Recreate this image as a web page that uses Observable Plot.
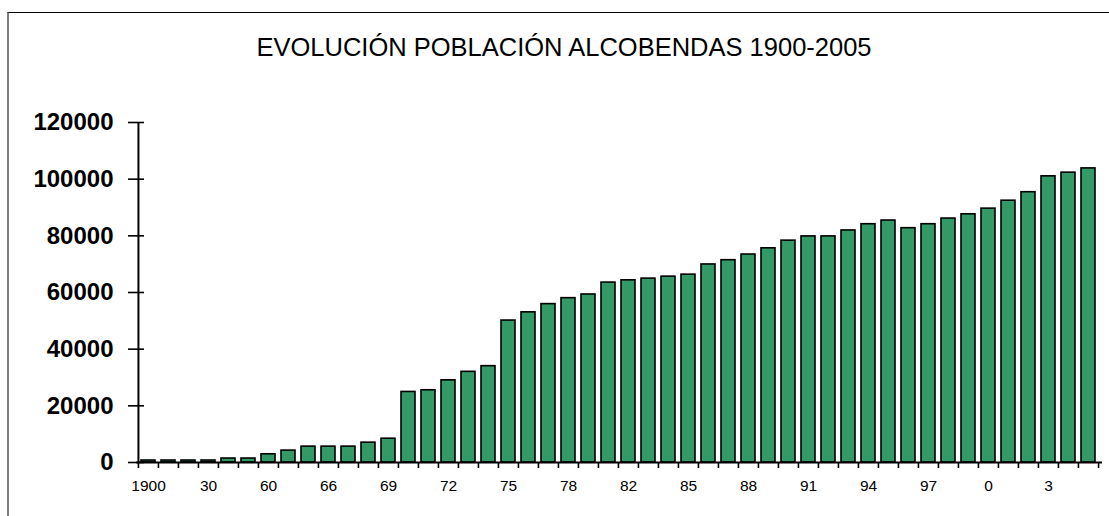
<!DOCTYPE html>
<html>
<head>
<meta charset="utf-8">
<script src="https://cdn.jsdelivr.net/npm/d3@7"></script>
<script src="https://cdn.jsdelivr.net/npm/@observablehq/plot@0.6"></script>
<style>
  html, body { margin: 0; padding: 0; background: #fff; overflow: hidden; }
  #wrap { position: relative; width: 1109px; height: 516px; overflow: hidden; font-family: "Liberation Sans", Arial, sans-serif; }
  #border { position: absolute; left: 7px; top: 12px; width: 1102px; height: 510px;
            border-top: 1.5px solid #000; border-left: 2px solid #808080; }
  #title { position: absolute; left: 64px; width: 1000px; top: 34px; line-height: 26px;
           text-align: center; font-size: 25.5px; color: #000; }
  #chart { position: absolute; left: 0; top: 0; }
</style>
</head>
<body>
<div id="wrap">
  <div id="border"></div>
  <div id="title">EVOLUCIÓN POBLACIÓN ALCOBENDAS 1900-2005</div>
  <div id="chart"></div>
</div>
<script>
const years = [1900,1910,1920,1930,1940,1950,1960,1962,1964,1966,1967,1968,1969,1970,1971,1972,1973,1974,1975,1976,1977,1978,1979,1981,1982,1983,1984,1985,1986,1987,1988,1989,1990,1991,1992,1993,1994,1995,1996,1997,1998,1999,2000,2001,2002,2003,2004,2005];
const population = [700,700,700,700,1400,1400,2900,4200,5600,5600,5600,7000,8400,24900,25500,29000,32000,34000,50100,53000,55900,58000,59300,63500,64300,64900,65600,66300,69900,71400,73400,75600,78300,79800,79800,81900,84100,85400,82700,84100,86100,87600,89600,92400,95400,101000,102300,103800];
const labelYears = [1900,1930,1960,1966,1969,1972,1975,1978,1982,1985,1988,1991,1994,1997,2000,2003];
const labelTexts = ["1900","30","60","66","69","72","75","78","82","85","88","91","94","97","0","3"];
const yTicks = [0,20000,40000,60000,80000,100000,120000];

const data = years.map((y, i) => ({year: y, pop: population[i]}));

const W = 1109, H = 516;
const mL = 136, mR = 7, mT = 122, mB = 54;
const bw = (W - mL - mR) / years.length;

const chart = Plot.plot({
  width: W,
  height: H,
  marginLeft: mL,
  marginRight: mR,
  marginTop: mT,
  marginBottom: mB,
  style: {fontFamily: "'Liberation Sans', Arial, sans-serif", background: "transparent", color: "#000"},
  x: {type: "band", domain: years, padding: 0.3, align: 0.45},
  y: {domain: [0, 120000]},
  marks: [
    Plot.barY(data, {x: "year", y: "pop", fill: "#339966", stroke: "#000", strokeWidth: 1.6}),
    Plot.ruleY([0], {stroke: "#000", strokeWidth: 2}),
    Plot.ruleX([years[0]], {x: d => d, dx: -bw / 2, y1: 0, y2: 120000, stroke: "#000", strokeWidth: 2}),
    Plot.ruleX(years, {x: d => d, dx: -bw / 2, y1: 0, y2: 0, insetBottom: -6, stroke: "#000", strokeWidth: 1.6}),
    Plot.ruleX([years[years.length - 1]], {x: d => d, dx: bw / 2, y1: 0, y2: 0, insetBottom: -6, stroke: "#000", strokeWidth: 1.6}),
    Plot.axisY({ticks: yTicks, tickSize: 16, dx: 8, tickPadding: 15, strokeWidth: 1.6,
                tickFormat: d => String(d), fontSize: 24, fontWeight: "bold", label: null}),
    Plot.axisX({ticks: labelYears, tickSize: 0, tickPadding: 17, fontSize: 15.5, label: null,
                tickFormat: d => labelTexts[labelYears.indexOf(d)]})
  ]
});
document.getElementById("chart").appendChild(chart);
</script>
</body>
</html>
